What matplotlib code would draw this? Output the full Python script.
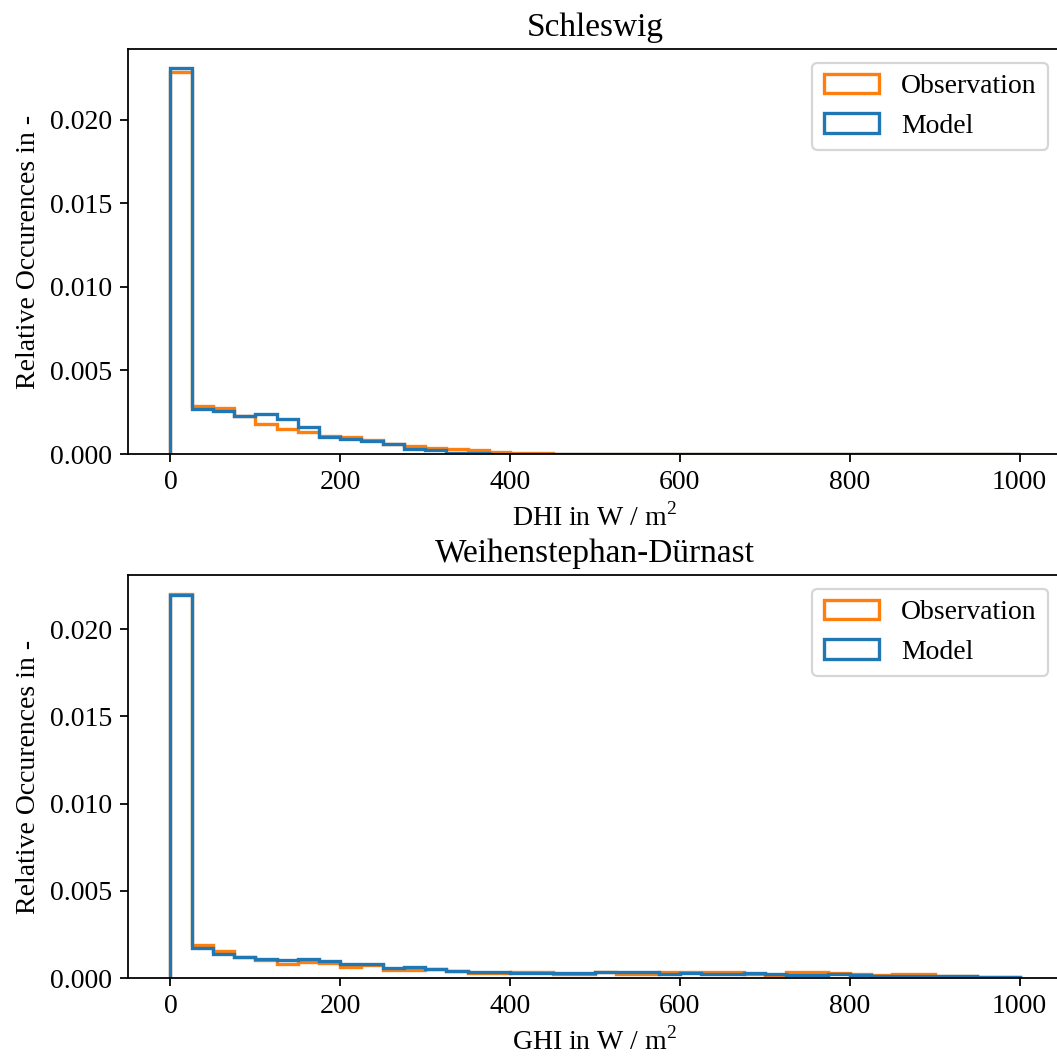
import numpy as np
import matplotlib
matplotlib.use('Agg')
import matplotlib.pyplot as plt

plt.rcParams['font.family'] = ['Liberation Serif', 'DejaVu Serif']
plt.rcParams['font.size'] = 12.5
plt.rcParams['mathtext.fontset'] = 'custom'
plt.rcParams['mathtext.rm'] = 'Liberation Serif'

# histogram bins, 25 W/m2 wide
bin_edges = np.arange(0, 1025, 25)

# Schleswig, DHI (relative occurrences per bin)
dhi_obs = [0.02285, 0.00288, 0.00278, 0.00228, 0.00180, 0.00152, 0.00130, 0.00106,
           0.00099, 0.00084, 0.00061, 0.00049, 0.00037, 0.00029, 0.00021, 0.00011,
           0.00009, 0.00005, 0.00003, 0.00002, 0.00001, 0.00001, 0.00001, 0.0,
           0.0, 0.0, 0.0, 0.0, 0.0, 0.0, 0.0, 0.0,
           0.0, 0.0, 0.0, 0.0, 0.0, 0.0, 0.0, 0.0]
dhi_model = [0.02307, 0.00268, 0.00260, 0.00228, 0.00240, 0.00208, 0.00160, 0.00100,
             0.00090, 0.00080, 0.00061, 0.00029, 0.00021, 0.00007, 0.00005, 0.00003,
             0.00002, 0.00001, 0.00001, 0.0, 0.0, 0.0, 0.0, 0.0,
             0.0, 0.0, 0.0, 0.0, 0.0, 0.0, 0.0, 0.0,
             0.0, 0.0, 0.0, 0.0, 0.0, 0.0, 0.0, 0.0]

# Weihenstephan-Dürnast, GHI
ghi_obs = [0.02200, 0.00190, 0.00157, 0.00123, 0.00102, 0.00079, 0.00090, 0.00085,
           0.00066, 0.00073, 0.00047, 0.00047, 0.00050, 0.00043, 0.00031, 0.00031,
           0.00036, 0.00035, 0.00025, 0.00025, 0.00036, 0.00025, 0.00025, 0.00032,
           0.00036, 0.00036, 0.00036, 0.00025, 0.00017, 0.00032, 0.00032, 0.00026,
           0.00022, 0.00020, 0.00022, 0.00022, 0.00012, 0.00010, 0.00006, 0.00004]
ghi_model = [0.02195, 0.00174, 0.00136, 0.00119, 0.00110, 0.00106, 0.00107, 0.00098,
             0.00079, 0.00081, 0.00058, 0.00066, 0.00053, 0.00041, 0.00035, 0.00035,
             0.00030, 0.00031, 0.00031, 0.00029, 0.00036, 0.00036, 0.00036, 0.00025,
             0.00027, 0.00025, 0.00025, 0.00029, 0.00025, 0.00017, 0.00017, 0.00022,
             0.00020, 0.00013, 0.00013, 0.00013, 0.00012, 0.00010, 0.00008, 0.00005]

panels = [
    ('Schleswig', 'DHI in W / m$^2$', dhi_obs, dhi_model),
    ('Weihenstephan-Dürnast', 'GHI in W / m$^2$', ghi_obs, ghi_model),
]

fig = plt.figure(figsize=(1057 / 160, 1064 / 160), dpi=160)
ax_top = fig.add_axes([0.1211, 0.5733, 0.8836, 0.3806])
ax_bot = fig.add_axes([0.1211, 0.0808, 0.8836, 0.3788])

for ax, (title, xlabel, obs, model) in zip([ax_top, ax_bot], panels):
    ax.hist(bin_edges[:-1], bins=bin_edges, weights=obs, histtype='step',
            color='C1', linewidth=1.5, label='Observation')
    ax.hist(bin_edges[:-1], bins=bin_edges, weights=model, histtype='step',
            color='C0', linewidth=1.5, label='Model')
    ax.set_title(title)
    ax.set_xlabel(xlabel)
    ax.set_ylabel('Relative Occurences in -')
    ax.set_xticks([0, 200, 400, 600, 800, 1000])
    ax.set_yticks([0.0, 0.005, 0.010, 0.015, 0.020])
    ax.legend(loc='upper right')

fig.savefig('out.png', dpi=160)
